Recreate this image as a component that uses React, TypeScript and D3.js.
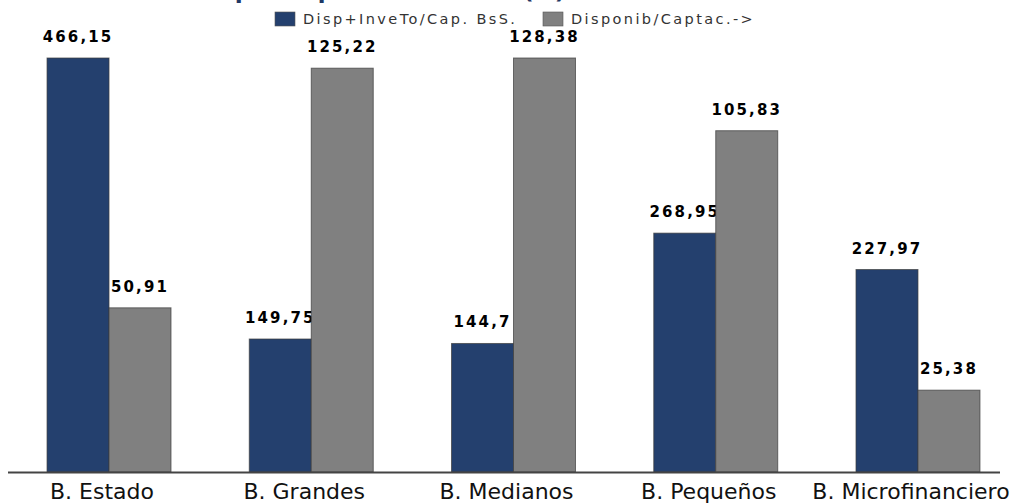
import React from "react";
import * as d3 from "d3";

const categories = ["B. Estado", "B. Grandes", "B. Medianos", "B. Pequeños", "B. Microfinanciero"];
const seriesNames = ["Disp+InveTo/Cap. BsS.", "Disponib/Captac.->"];
const dispInv = [466.15, 149.75, 144.7, 268.95, 227.97];
const disponib = [50.91, 125.22, 128.38, 105.83, 25.38];
const colors = ["#24406e", "#808080"];
const title = "Indicadores de Liquidez por Subsistema (%)";

const fmt = (v: number) => String(v).replace(".", ",");

const App: React.FC = () => {
  const width = 1021;
  const height = 504;
  const baseY = 472;
  const topY = 58;

  const x = d3
    .scaleBand<string>()
    .domain(categories)
    .range([8, 1019])
    .paddingInner(0.387)
    .paddingOuter(0.193);

  const x1 = d3.scaleBand<number>().domain([0, 1]).range([0, x.bandwidth()]);

  // each series has its own (hidden) axis
  const yA = d3.scaleLinear().domain([0, d3.max(dispInv) || 0]).range([baseY, topY]);
  const yB = d3.scaleLinear().domain([0, d3.max(disponib) || 0]).range([baseY, topY]);

  const series = [
    { values: dispInv, y: yA },
    { values: disponib, y: yB },
  ];

  return (
    <svg
      width={width}
      height={height}
      style={{ position: "absolute", left: 0, top: 0, background: "#fff" }}
    >
      {/* title is cropped at the top edge, as in the source */}
      <text
        x={8}
        y={-3}
        fontFamily="Open Sans"
        fontWeight="bold"
        fontSize={27}
        fill="#1f3864"
        textLength={557}
      >
        {title}
      </text>

      {seriesNames.map((name, i) => {
        const lx = i === 0 ? 275 : 543;
        return (
          <g key={name}>
            <rect x={lx} y={12} width={20} height={14} fill={colors[i]} stroke="#555" strokeWidth={0.6} />
            <text
              x={lx + 28}
              y={24}
              fontFamily="DejaVu Sans"
              fontSize={14.5}
              letterSpacing={2.4}
              fill="#333"
            >
              {name}
            </text>
          </g>
        );
      })}

      {categories.map((c, ci) => (
        <g key={c} transform={`translate(${x(c)},0)`}>
          {series.map((s, si) => {
            const v = s.values[ci];
            const bx = x1(si) || 0;
            const by = s.y(v);
            return (
              <g key={si}>
                <rect
                  x={bx}
                  y={by}
                  width={x1.bandwidth()}
                  height={baseY - by}
                  fill={colors[si]}
                  stroke="#3c3c3c"
                  strokeOpacity={0.7}
                  strokeWidth={1}
                />
                <text
                  x={bx + x1.bandwidth() / 2}
                  y={by - 16}
                  textAnchor="middle"
                  fontFamily="DejaVu Sans"
                  fontWeight="bold"
                  fontSize={15}
                  letterSpacing={2.1}
                  fill="#000"
                >
                  {fmt(v)}
                </text>
              </g>
            );
          })}
          <text
            x={x.bandwidth() / 2 - 7}
            y={499}
            textAnchor="middle"
            fontFamily="DejaVu Sans"
            fontSize={22}
            fill="#111"
          >
            {c}
          </text>
        </g>
      ))}

      <line x1={8} x2={1000} y1={baseY + 0.5} y2={baseY + 0.5} stroke="#444" strokeWidth={2} />
    </svg>
  );
};

export default App;
